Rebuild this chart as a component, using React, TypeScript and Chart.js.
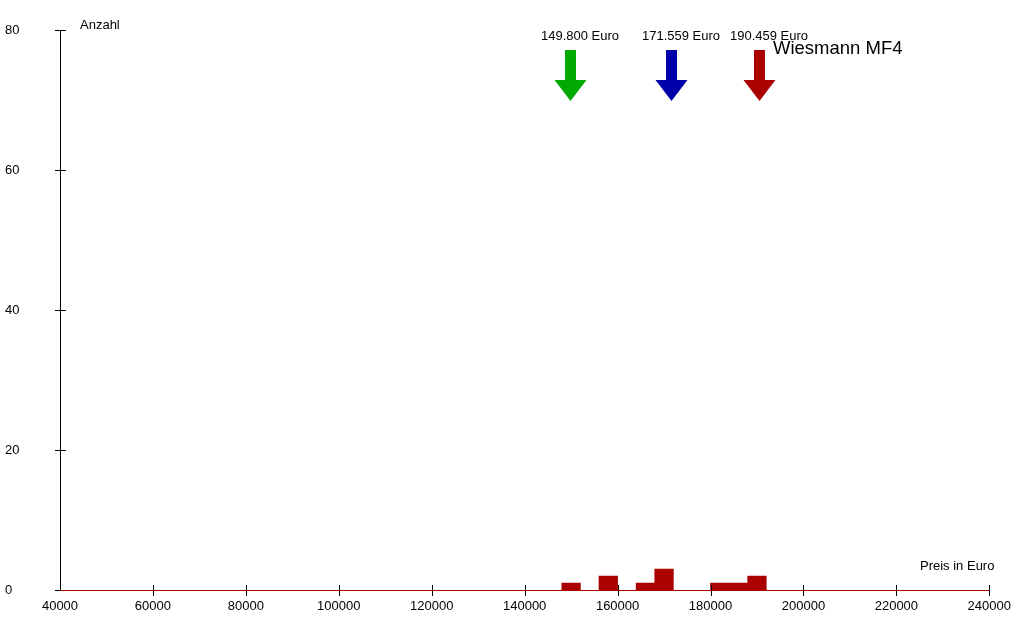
import { useEffect, useRef } from "react";
import { Chart, registerables } from "chart.js";

Chart.register(...registerables);

// Histogram bins (bin centers in Euro, bin width 4000) and counts
const binCenters = [150000, 158000, 166000, 170000, 182000, 186000, 190000];
const binCounts = [1, 2, 1, 3, 1, 1, 2];

// Axis ranges / ticks
const xMin = 40000;
const xMax = 240000;
const xStep = 20000;
const yMin = 0;
const yMax = 80;
const yStep = 20;

// Price markers (arrows)
const markerValues = [149800, 171559, 190459];
const markerLabels = ["149.800 Euro", "171.559 Euro", "190.459 Euro"];
const markerColors = ["#00aa00", "#0000aa", "#aa0000"];

const titleText = "Wiesmann MF4";
const yAxisTitle = "Anzahl";
const xAxisTitle = "Preis in Euro";

const FONT = "'Liberation Sans', Arial, sans-serif";
const BAR_COLOR = "#aa0000";

const overlayPlugin = {
  id: "overlay",
  afterDraw(chart: any) {
    const ctx = chart.ctx as CanvasRenderingContext2D;
    const xs = chart.scales.x;
    const ys = chart.scales.y;
    const area = chart.chartArea;
    ctx.save();
    // tick marks crossing the axes
    ctx.strokeStyle = "#000";
    ctx.lineWidth = 1;
    ys.ticks.forEach((t: any) => {
      const py = Math.round(ys.getPixelForValue(t.value)) + 0.5;
      ctx.beginPath();
      ctx.moveTo(area.left - 5, py);
      ctx.lineTo(area.left + 6, py);
      ctx.stroke();
    });
    xs.ticks.forEach((t: any) => {
      if (t.value === xMin) return;
      const px = Math.round(xs.getPixelForValue(t.value)) + 0.5;
      ctx.beginPath();
      ctx.moveTo(px, area.bottom - 5);
      ctx.lineTo(px, area.bottom + 6);
      ctx.stroke();
    });
    // x axis line (red)
    ctx.strokeStyle = BAR_COLOR;
    ctx.beginPath();
    ctx.moveTo(area.left, Math.round(area.bottom) + 0.5);
    ctx.lineTo(area.right, Math.round(area.bottom) + 0.5);
    ctx.stroke();
    // y axis line
    ctx.strokeStyle = "#000";
    ctx.beginPath();
    ctx.moveTo(Math.round(area.left) + 0.5, area.top);
    ctx.lineTo(Math.round(area.left) + 0.5, area.bottom);
    ctx.stroke();

    // arrows
    const top = area.top;
    markerValues.forEach((v, i) => {
      const px = Math.round(xs.getPixelForValue(v));
      ctx.fillStyle = markerColors[i];
      ctx.fillRect(px - 5, top + 20, 11, 31);
      ctx.beginPath();
      ctx.moveTo(px - 15.5, top + 50);
      ctx.lineTo(px + 16.5, top + 50);
      ctx.lineTo(px + 0.5, top + 71);
      ctx.closePath();
      ctx.fill();
      ctx.fillStyle = "#000";
      ctx.font = `13px ${FONT}`;
      ctx.textAlign = "left";
      ctx.textBaseline = "middle";
      ctx.fillText(markerLabels[i], px - 29, top + 6);
    });

    ctx.fillStyle = "#000";
    ctx.textAlign = "left";
    ctx.textBaseline = "middle";
    ctx.font = `18.5px ${FONT}`;
    ctx.fillText(titleText, 773, 49);
    ctx.font = `13px ${FONT}`;
    ctx.fillText(yAxisTitle, 80, 25);
    ctx.fillText(xAxisTitle, 920, 566);
    ctx.restore();
  },
};

export default function App() {
  const canvasRef = useRef<HTMLCanvasElement | null>(null);

  useEffect(() => {
    document.body.style.margin = "0";
    document.body.style.background = "#fff";
    const canvas = canvasRef.current;
    if (!canvas) return;
    const chart = new Chart(canvas, {
      type: "bar",
      data: {
        datasets: [
          {
            data: binCenters.map((c, i) => ({ x: c, y: binCounts[i] })),
            backgroundColor: BAR_COLOR,
            borderWidth: 0,
            barPercentage: 1,
            categoryPercentage: 1,
          },
        ],
      },
      options: {
        responsive: false,
        animation: false,
        events: [],
        layout: { padding: { left: 5, right: 30, top: 30, bottom: 0 } },
        plugins: {
          legend: { display: false },
          tooltip: { enabled: false },
          title: { display: false },
        },
        scales: {
          x: {
            type: "linear",
            min: xMin,
            max: xMax,
            offset: false,
            grid: { display: false, drawTicks: false },
            border: { display: false },
            ticks: {
              stepSize: xStep,
              color: "#000",
              font: { family: FONT, size: 13 },
              padding: 9,
              maxRotation: 0,
              autoSkip: false,
              callback: (v: any) => String(v),
            },
            afterFit: (s: any) => {
              s.height = 30;
            },
          },
          y: {
            type: "linear",
            min: yMin,
            max: yMax,
            grid: { display: false, drawTicks: false },
            border: { display: false },
            ticks: {
              stepSize: yStep,
              color: "#000",
              crossAlign: "far",
              font: { family: FONT, size: 13 },
            },
            afterFit: (s: any) => {
              s.width = 55;
            },
          },
        },
      },
      plugins: [overlayPlugin],
    });
    return () => chart.destroy();
  }, []);

  return (
    <div style={{ position: "absolute", left: 0, top: 0, width: 1020, height: 620 }}>
      <canvas ref={canvasRef} width={1020} height={620} />
    </div>
  );
}
